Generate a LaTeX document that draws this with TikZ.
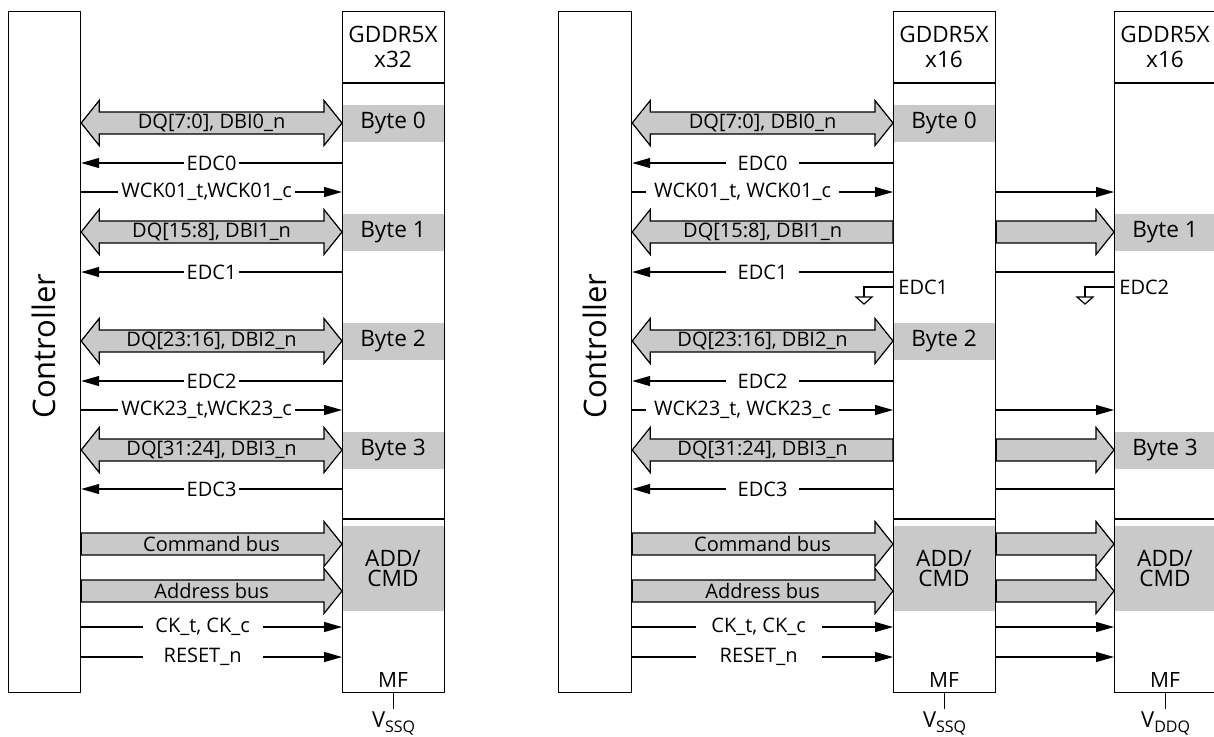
\documentclass[tikz,border=0pt]{standalone}
\usepackage{fontspec}
\setmainfont{Open Sans}
\usetikzlibrary{positioning,arrows.meta,calc}
\definecolor{busgray}{gray}{0.79}
\tikzset{
    unitbox/.style={draw, line width=0.6pt, anchor=north west, inner sep=0pt, minimum width=51pt, minimum height=340.5pt},
    ctlbox/.style={unitbox, minimum width=36pt},
    ctlname/.style={rotate=90, font=\fontsize{15.5}{18}\selectfont},
    headtext/.style={align=center, font=\fontsize{11.3}{12.5}\selectfont},
    graybox/.style={fill=busgray, inner sep=0pt, minimum width=51pt, minimum height=18.5pt, font=\fontsize{11.3}{12.5}\selectfont},
    cmdbox/.style={graybox, minimum height=42.5pt, align=center, font=\fontsize{11.3}{9.8}\selectfont},
    pintext/.style={inner sep=1pt, font=\fontsize{10.5}{12}\selectfont},
    supplytext/.style={pintext, anchor=north, font=\fontsize{11}{12}\selectfont},
    busfill/.style={draw, fill=busgray, line width=0.6pt},
    buslab/.style={inner sep=0pt, font=\fontsize{10}{12}\selectfont},
    sigline/.style={draw, line width=0.6pt, -{Triangle[length=9pt,width=5pt]}},
    plainline/.style={draw, line width=0.6pt},
    siglab/.style={fill=white, inner xsep=1.5pt, inner ysep=1pt, font=\fontsize{10}{12}\selectfont},
    siglabwide/.style={siglab, inner xsep=6pt},
    clklab/.style={siglab, minimum width=60pt}
}
\newcommand{\subq}[1]{\raisebox{-0.45ex}{\fontsize{8}{9}\selectfont #1}}
% fat bus arrows: #1 from node, #2 to node, #3 y, #4 label
\newcommand{\busboth}[4]{%
    \coordinate (bA) at (#1.east |- 0,#3);
    \coordinate (bB) at (#2.west |- 0,#3);
    \draw[busfill] (bA) -- ($(bA)+(18,-22.5)$) -- ($(bA)+(18,-11)$) -- ($(bB)+(-18,-11)$) -- ($(bB)+(-18,-22.5)$) -- (bB)
        -- ($(bB)+(-18,22.5)$) -- ($(bB)+(-18,11)$) -- ($(bA)+(18,11)$) -- ($(bA)+(18,22.5)$) -- cycle;
    \node[buslab] (bus-#1-#3) at ($(bA)!0.5!(bB)$) {#4};}
\newcommand{\busleft}[4]{%
    \coordinate (bA) at (#1.east |- 0,#3);
    \coordinate (bB) at (#2.west |- 0,#3);
    \draw[busfill] (bA) -- ($(bA)+(18,-22.5)$) -- ($(bA)+(18,-11)$) -- ($(bB)+(0,-11)$) -- ($(bB)+(0,11)$)
        -- ($(bA)+(18,11)$) -- ($(bA)+(18,22.5)$) -- cycle;
    \node[buslab] (bus-#1-#3) at ($(bA)!0.5!(bB)$) {#4};}
\newcommand{\busright}[4]{%
    \coordinate (bA) at (#1.east |- 0,#3);
    \coordinate (bB) at (#2.west |- 0,#3);
    \draw[busfill] ($(bA)+(0,-11)$) -- ($(bB)+(-18,-11)$) -- ($(bB)+(-18,-22.5)$) -- (bB) -- ($(bB)+(-18,22.5)$)
        -- ($(bB)+(-18,11)$) -- ($(bA)+(0,11)$) -- cycle;
    \node[buslab] (bus-#1-#3) at ($(bA)!0.5!(bB)$) {#4};}

\begin{document}
\begin{tikzpicture}[x=0.5pt, y=-0.5pt]
    \useasboundingbox (0,0) rectangle (1214,736);

    % ---- left: controller with one x32 device
    \node[graybox] (byteL0) at (393,123) {Byte 0};
    \node[graybox] (byteL1) at (393,232) {Byte 1};
    \node[graybox] (byteL2) at (393,341) {Byte 2};
    \node[graybox] (byteL3) at (393,450) {Byte 3};
    \node[cmdbox] (cmdL) at (393,568.5) {ADD/\\CMD};
    \node[ctlbox] (ctlL) at (8,11) {};
    \node[unitbox] (chipL) at (342,11) {};
    \node[ctlname] (ctlLname) at (44,346) {Controller};
    \node[headtext] (headL) at (393,47) {GDDR5X\\x32};
    \draw[plainline] (chipL.west |- 0,83) -- (chipL.east |- 0,83);
    \draw[plainline] (chipL.west |- 0,519) -- (chipL.east |- 0,519);
    \node[pintext] (mfL) at (393,680) {MF};
    \draw[plainline] (chipL.south) -- ++(0,16) coordinate (vL);
    \node[supplytext] (vssL) at (vL) {V\subq{SSQ}};

    \busboth{ctlL}{chipL}{123}{DQ[7:0], DBI0\_n}
    \draw[sigline] (chipL.west |- 0,163) -- (ctlL.east |- 0,163) node[siglab, midway] (edcL0) {EDC0};
    \draw[sigline] (ctlL.east |- 0,192) -- (chipL.west |- 0,192) node[siglab, midway, xshift=-2.5pt] (wckL0) {WCK01\_t,WCK01\_c};
    \busboth{ctlL}{chipL}{232}{DQ[15:8], DBI1\_n}
    \draw[sigline] (chipL.west |- 0,272) -- (ctlL.east |- 0,272) node[siglab, midway] (edcL1) {EDC1};
    \busboth{ctlL}{chipL}{341}{DQ[23:16], DBI2\_n}
    \draw[sigline] (chipL.west |- 0,381) -- (ctlL.east |- 0,381) node[siglab, midway] (edcL2) {EDC2};
    \draw[sigline] (ctlL.east |- 0,410) -- (chipL.west |- 0,410) node[siglab, midway, xshift=-2.5pt] (wckL1) {WCK23\_t,WCK23\_c};
    \busboth{ctlL}{chipL}{450}{DQ[31:24], DBI3\_n}
    \draw[sigline] (chipL.west |- 0,489) -- (ctlL.east |- 0,489) node[siglab, midway] (edcL3) {EDC3};
    \busright{ctlL}{chipL}{544}{Command bus}
    \busright{ctlL}{chipL}{591}{Address bus}
    \draw[sigline] (ctlL.east |- 0,627) -- (chipL.west |- 0,627) node[clklab, midway, xshift=-4.5pt] (ckL) {CK\_t, CK\_c};
    \draw[sigline] (ctlL.east |- 0,657) -- (chipL.west |- 0,657) node[clklab, midway, xshift=-4.5pt] (rstL) {RESET\_n};

    % ---- right: controller with two x16 devices
    \node[graybox] (byteRa0) at (944,123) {Byte 0};
    \node[graybox] (byteRa2) at (944,341) {Byte 2};
    \node[graybox] (byteRb1) at (1165,232) {Byte 1};
    \node[graybox] (byteRb3) at (1165,450) {Byte 3};
    \node[cmdbox] (cmdRa) at (944,568.5) {ADD/\\CMD};
    \node[cmdbox] (cmdRb) at (1165,568.5) {ADD/\\CMD};
    \node[ctlbox, minimum width=36.5pt] (ctlR) at (558,11) {};
    \node[unitbox] (chipRa) at (893,11) {};
    \node[unitbox] (chipRb) at (1114,11) {};
    \node[ctlname] (ctlRname) at (594.5,346) {Controller};
    \node[headtext] (headRa) at (944,47) {GDDR5X\\x16};
    \node[headtext] (headRb) at (1165,47) {GDDR5X\\x16};
    \draw[plainline] (chipRa.west |- 0,83) -- (chipRa.east |- 0,83);
    \draw[plainline] (chipRb.west |- 0,83) -- (chipRb.east |- 0,83);
    \draw[plainline] (chipRa.west |- 0,519) -- (chipRa.east |- 0,519);
    \draw[plainline] (chipRb.west |- 0,519) -- (chipRb.east |- 0,519);
    \node[pintext] (mfRa) at (944,680) {MF};
    \node[pintext] (mfRb) at (1165,680) {MF};
    \draw[plainline] (chipRa.south) -- ++(0,16) coordinate (vRa);
    \draw[plainline] (chipRb.south) -- ++(0,16) coordinate (vRb);
    \node[supplytext] (vssR) at (vRa) {V\subq{SSQ}};
    \node[supplytext] (vddR) at (vRb) {V\subq{DDQ}};

    \busboth{ctlR}{chipRa}{123}{DQ[7:0], DBI0\_n}
    \draw[sigline] (chipRa.west |- 0,163) -- (ctlR.east |- 0,163) node[siglabwide, midway] (edcR0) {EDC0};
    \draw[sigline] (ctlR.east |- 0,192) -- (chipRa.west |- 0,192) node[siglab, inner xsep=4pt, midway, xshift=-10pt] (wckR0) {WCK01\_t, WCK01\_c};
    \draw[sigline] (chipRa.east |- 0,192) -- (chipRb.west |- 0,192);
    \busleft{ctlR}{chipRa}{232}{DQ[15:8], DBI1\_n}
    \busright{chipRa}{chipRb}{232}{}
    \draw[sigline] (chipRa.west |- 0,272) -- (ctlR.east |- 0,272) node[siglabwide, midway] (edcR1) {EDC1};
    \draw[plainline] (chipRa.east |- 0,272) -- (chipRb.west |- 0,272);
    \busboth{ctlR}{chipRa}{341}{DQ[23:16], DBI2\_n}
    \draw[sigline] (chipRa.west |- 0,381) -- (ctlR.east |- 0,381) node[siglabwide, midway] (edcR2) {EDC2};
    \draw[sigline] (ctlR.east |- 0,410) -- (chipRa.west |- 0,410) node[siglab, inner xsep=4pt, midway, xshift=-10pt] (wckR1) {WCK23\_t, WCK23\_c};
    \draw[sigline] (chipRa.east |- 0,410) -- (chipRb.west |- 0,410);
    \busleft{ctlR}{chipRa}{450}{DQ[31:24], DBI3\_n}
    \busright{chipRa}{chipRb}{450}{}
    \draw[sigline] (chipRa.west |- 0,489) -- (ctlR.east |- 0,489) node[siglabwide, midway] (edcR3) {EDC3};
    \draw[plainline] (chipRa.east |- 0,489) -- (chipRb.west |- 0,489);
    \busright{ctlR}{chipRa}{544}{Command bus}
    \busright{ctlR}{chipRa}{591}{Address bus}
    \busright{chipRa}{chipRb}{544}{}
    \busright{chipRa}{chipRb}{591}{}
    \draw[sigline] (ctlR.east |- 0,627) -- (chipRa.west |- 0,627) node[clklab, minimum width=63pt, midway, xshift=-2pt] (ckR) {CK\_t, CK\_c};
    \draw[sigline] (ctlR.east |- 0,657) -- (chipRa.west |- 0,657) node[clklab, minimum width=63pt, midway, xshift=-2pt] (rstR) {RESET\_n};
    \draw[sigline] (chipRa.east |- 0,627) -- (chipRb.west |- 0,627);
    \draw[sigline] (chipRa.east |- 0,657) -- (chipRb.west |- 0,657);

    % EDC pins tied low
    \draw[plainline] (chipRa.west |- 0,287) -- ++(-29,0) -- ++(0,10) coordinate (gndA);
    \draw[plainline] ($(gndA)+(-8,0)$) -- ($(gndA)+(8,0)$) -- ($(gndA)+(0,7)$) -- cycle;
    \node[pintext, anchor=west, font=\fontsize{10}{12}\selectfont] (edcTagA) at ($(chipRa.west |- 0,287)+(3,0)$) {EDC1};
    \draw[plainline] (chipRb.west |- 0,287) -- ++(-29,0) -- ++(0,10) coordinate (gndB);
    \draw[plainline] ($(gndB)+(-8,0)$) -- ($(gndB)+(8,0)$) -- ($(gndB)+(0,7)$) -- cycle;
    \node[pintext, anchor=west, font=\fontsize{10}{12}\selectfont] (edcTagB) at ($(chipRb.west |- 0,287)+(3,0)$) {EDC2};
\end{tikzpicture}
\end{document}
